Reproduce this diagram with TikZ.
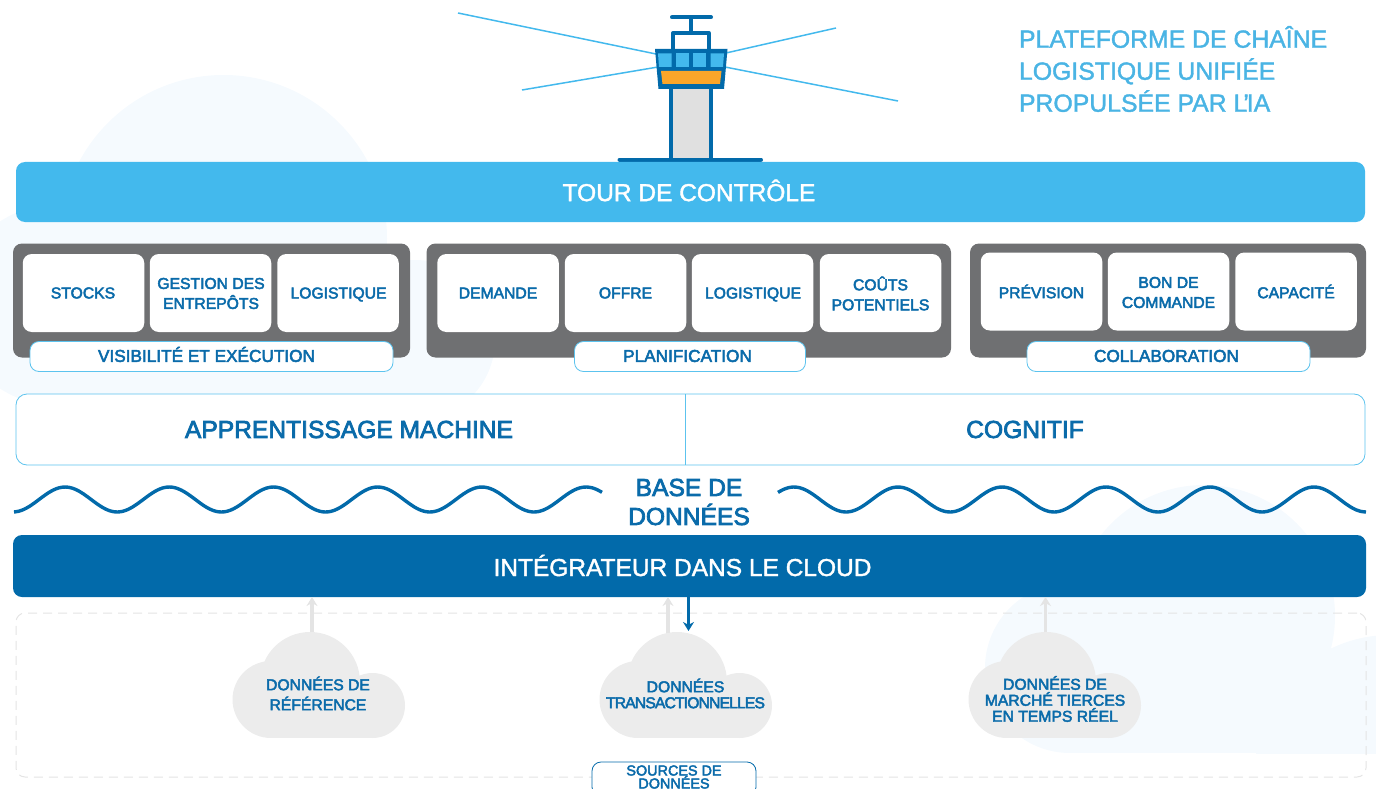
\documentclass[tikz,border=0pt]{standalone}
\usepackage{fontspec}
\setmainfont{Liberation Sans}
\newfontfamily\semib[FakeBold=3]{Liberation Sans}
\newfontfamily\semitight[FakeBold=3,LetterSpace=-5.5]{Liberation Sans}
\newfontfamily\medf[FakeBold=1.6]{Liberation Sans}
\definecolor{skyb}{HTML}{43B9ED}
\definecolor{deepb}{HTML}{026AAA}
\definecolor{txtb}{HTML}{0A6BAA}
\definecolor{edgeb}{HTML}{5CC3EE}
\definecolor{panelg}{HTML}{6F7072}
\definecolor{cloudg}{HTML}{ECECEC}
\definecolor{arrowg}{HTML}{E4E4E4}
\definecolor{paleb}{HTML}{F5FAFE}
\definecolor{titleb}{HTML}{4AB4E4}
\definecolor{orangeb}{HTML}{FBA629}
\definecolor{shaftg}{HTML}{E0E0E0}
\usetikzlibrary{arrows.meta}
\newcommand{\nodepth}[1]{\raisebox{0pt}[\height][0pt]{#1}}
\tikzset{
  x=1pt,y=-1pt,
  every node/.style={inner sep=0pt,outer sep=0pt},
  band/.style={rounded corners=9pt,minimum width=1349pt},
  bandtxt/.style={text=white,font=\medf\fontsize{24.5}{29}\selectfont},
  panel/.style={fill=panelg,rounded corners=9pt},
  tile/.style={fill=white,rounded corners=9pt,minimum height=78pt,minimum width=121.5pt},
  tiletxt/.style={text=txtb,align=center,font=\semib\fontsize{15.7}{20}\selectfont},
  tag/.style={fill=white,draw=edgeb,line width=0.8pt,rounded corners=9pt,minimum height=30pt},
  tagtxt/.style={text=txtb,font=\semib\fontsize{17.2}{20}\selectfont},
  bigtxt/.style={text=txtb,font=\semib\fontsize{24.6}{29}\selectfont,align=center},
  cloudtxt/.style={text=txtb,align=center,font=\semib\fontsize{15.7}{20}\selectfont},
  wave/.style={draw=deepb,line width=3.4pt},
  tw/.style={draw=deepb,line width=4pt,line join=round},
  beam/.style={draw=skyb,line width=1.5pt},
  upg/.style={draw=arrowg,line width=3.2pt,-{Stealth[length=9pt,width=11pt]}},
  downb/.style={draw=deepb,line width=3pt,-{Stealth[length=9pt,width=11pt]}}
}
\newcommand{\cloudat}[1]{%
  \begin{scope}[shift={(#1,0)}]
    \fill[cloudg] (638,699.5) circle[radius=38.5pt] (677,682) circle[radius=50pt] (739.5,705.5) circle[radius=32.5pt];
    \fill[cloudg] (638,690) rectangle (740,738);
  \end{scope}}
\begin{document}
\begin{tikzpicture}
\useasboundingbox (0,0) rectangle (1376,789);
\begin{scope}
\clip (0,0) rectangle (1376,789);
% pale background clouds
\fill[paleb] (223.5,238.5) circle[radius=163.5pt] (55,305) circle[radius=100pt] (415,340) circle[radius=80pt];
\fill[paleb] (55,300) rectangle (415,405);
\begin{scope}
\clip (0,400) rectangle (1376,753);
\fill[paleb] (1204,616) circle[radius=131pt] (1070,668) circle[radius=85pt] (1390,770) circle[radius=135pt];
\fill[paleb] (1070,660) rectangle (1376,753);
\end{scope}
% beams
\coordinate (lampL) at (656,54);
\coordinate (lampR) at (726,53);
\coordinate (lampLb) at (658,67);
\coordinate (lampRb) at (725,67);
\coordinate (b1) at (458,13);
\coordinate (b2) at (836,28);
\coordinate (b3) at (522,90);
\coordinate (b4) at (898,101);
\draw[beam] (b1) -- (lampL);
\draw[beam] (b2) -- (lampR);
\draw[beam] (b3) -- (lampLb);
\draw[beam] (b4) -- (lampRb);
% tower
\draw[tw,fill=white] (673.3,50) -- (673.3,33) -- (708.7,33) -- (708.7,50);
\draw[tw,line cap=round] (672,17.3) -- (711,17.3);
\draw[tw] (690.7,17.3) -- (690.7,33);
\fill[shaftg] (671.3,87) rectangle (710.7,158);
\draw[tw] (671.3,87) -- (671.3,159) (710.7,87) -- (710.7,159);
\fill[deepb] (655,49) -- (727.5,49) -- (724,89) -- (658.5,89) -- cycle;
\fill[skyb] (658,53.5) -- (671.5,53.5) -- (671.5,67) -- (659,67) -- cycle;
\fill[skyb] (675.5,53.5) rectangle (688.5,67);
\fill[skyb] (693,53.5) rectangle (706,67);
\fill[skyb] (710.5,53.5) -- (724,53.5) -- (723,67) -- (710.5,67) -- cycle;
\fill[orangeb] (661,71) -- (721.5,71) -- (720,84) -- (662.5,84) -- cycle;
\draw[tw,line cap=round] (619.5,159.7) -- (761,159.7);
% title
\node[anchor=west,text=titleb,align=left,font=\medf\fontsize{24.8}{32}\selectfont] (title) at (1019,69) {PLATEFORME DE CHAÎNE\\LOGISTIQUE UNIFIÉE\\PROPULSÉE PAR L\kern-4pt’\kern-2ptIA};
% bands
\node[band,fill=skyb,minimum height=60pt] (tour) at (690.5,192) {};
\node[bandtxt] (tourtxt) at (689,190.5) {TOUR DE CONTRÔLE};
% panels
\node[panel,minimum width=397pt,minimum height=114pt] (p1) at (211.5,300.5) {};
\node[panel,minimum width=524.5pt,minimum height=114pt] (p2) at (688.75,300.5) {};
\node[panel,minimum width=396pt,minimum height=114pt] (p3) at (1168,300.5) {};
\node[tile] (t11) at (83.5,293) {};
\node[tile] (t12) at (210.5,293) {};
\node[tile] (t13) at (338,293) {};
\node[tile] (t21) at (498,293) {};
\node[tile] (t22) at (625.5,293) {};
\node[tile] (t23) at (752.5,293) {};
\node[tile] (t24) at (880.5,293) {};
\node[tile] (t31) at (1041.5,291.5) {};
\node[tile] (t32) at (1168.5,291.5) {};
\node[tile] (t33) at (1296,291.5) {};
\node[tiletxt] (x11) at (83,293) {STOCKS};
\node[tiletxt] (x12) at (211,293.5) {GESTION DES\\ENTREPÔTS};
\node[tiletxt] (x13) at (338.5,293) {\nodepth{LOGISTIQUE}};
\node[tiletxt] (x21) at (498,293) {DEMANDE};
\node[tiletxt] (x22) at (625.5,293) {OFFRE};
\node[tiletxt] (x23) at (753,293) {\nodepth{LOGISTIQUE}};
\node[tiletxt] (x24) at (880.5,293.5) {COÛTS\\POTENTIELS};
\node[tiletxt] (x31) at (1041.5,291.5) {PRÉVISION};
\node[tiletxt] (x32) at (1168.5,292.5) {BON DE\\COMMANDE};
\node[tiletxt] (x33) at (1296,291.5) {CAPACITÉ};
\node[tag,minimum width=363pt] (l1) at (211.5,356.5) {};
\node[tag,minimum width=231pt] (l2) at (690,356.5) {};
\node[tag,minimum width=283pt] (l3) at (1168.5,356.5) {};
\node[tagtxt] (y1) at (206.5,354.5) {VISIBILITÉ ET EXÉCUTION};
\node[tagtxt] (y2) at (687.5,356) {PLANIFICATION};
\node[tagtxt] (y3) at (1166.5,356) {COLLABORATION};
% ML band
\node[draw=edgeb,line width=0.8pt,fill=white,rounded corners=11pt,minimum width=1349pt,minimum height=71pt] (ml) at (690.5,429.5) {};
\coordinate (div) at (685.5,429.5);
\draw[edgeb,line width=0.8pt] (ml.north -| div) -- (ml.south -| div);
\node[bigtxt] (mltxt) at (349,429.5) {APPRENTISSAGE MACHINE};
\node[bigtxt] (cog) at (1025,429.5) {COGNITIF};
% waves
\draw[wave] plot[smooth,samples=120,domain=14:602,variable=\t] (\t,{499.5+12.5*cos(3.455*(\t-13))});
\draw[wave] plot[smooth,samples=120,domain=778:1366,variable=\t] (\t,{499.5+12.5*cos(3.4615*(\t-1262))});
\node[bigtxt] (base) at (689,502) {BASE DE\\DONNÉES};
% dashed frame
\node[draw=arrowg,line width=1pt,dash pattern=on 9pt off 6pt,rounded corners=9pt,minimum width=1350pt,minimum height=164pt] (src) at (691,695) {};
% clouds
\cloudat{-367}
\cloudat{0}
\cloudat{369}
\node[cloudtxt] (c1) at (318,693.5) {DONNÉES DE\\RÉFÉRENCE};
\node[cloudtxt,font=\semib\fontsize{15.7}{16}\selectfont] (c2) at (685.5,693.5) {DONNÉES\\{\semitight TRANSACTIONNELLES}};
\node[cloudtxt,font=\semib\fontsize{15.7}{16}\selectfont] (c3) at (1055,699) {DONNÉES DE\\MARCHÉ TIERCES\\EN TEMPS RÉEL};
% integrator
\node[band,fill=deepb,minimum width=1353pt,minimum height=62pt] (integ) at (689.5,566) {};
\node[bandtxt] (integtxt) at (682.5,565.5) {INTÉGRATEUR DANS LE CLOUD};
\coordinate (c1top) at (312,632);
\coordinate (c2top) at (668,633);
\coordinate (c2down) at (688.5,631);
\coordinate (c3top) at (1045.5,632);
\draw[upg] (c1top) -- (c1top |- integ.south);
\draw[upg] (c2top) -- (c2top |- integ.south);
\draw[upg] (c3top) -- (c3top |- integ.south);
\draw[downb] (c2down |- integ.south) -- (c2down);
% sources tag
\node[draw=deepb,line width=0.8pt,fill=white,rounded corners=9pt,minimum width=164pt,minimum height=34pt] (srcl) at (674,779) {};
\node[text=txtb,align=center,font=\semib\fontsize{14.4}{13}\selectfont] (srct) at (674,777) {SOURCES DE\\DONNÉES};
\end{scope}
\end{tikzpicture}
\end{document}
